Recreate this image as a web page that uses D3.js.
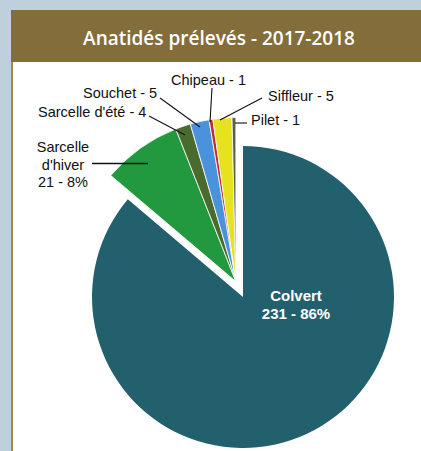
<!DOCTYPE html>
<html><head><meta charset="utf-8">
<script src="https://cdn.jsdelivr.net/npm/d3@7"></script>
<style>
html,body{margin:0;padding:0;background:#bdd0dc;}
svg{display:block;}
</style></head>
<body><svg id="c" width="421" height="451"></svg>
<script>
const categories = ["Colvert","Sarcelle d'hiver","Sarcelle d'été","Souchet","Chipeau","Siffleur","Pilet"];
const values = [231,21,4,5,1,5,1];
const colors = ["#22606e","#23993f","#4b6b2e","#4b92dc","#c22b2a","#e6e21e","#5a5f4b"];
const title = "Anatidés prélevés - 2017-2018";

const svg = d3.select("#c");
// panel
svg.append("rect").attr("x",11).attr("y",10).attr("width",410).attr("height",441).attr("fill","#ffffff");
svg.append("rect").attr("x",11).attr("y",10).attr("width",410).attr("height",52).attr("fill","#836d3b");
svg.append("rect").attr("x",11).attr("y",62).attr("width",2).attr("height",389).attr("fill","#9c8c55");

const t = svg.append("text").attr("x",219).attr("y",45).attr("text-anchor","middle")
  .attr("fill","#fff").attr("font-family","Open Sans, Lato, sans-serif").attr("font-weight",600)
  .attr("font-size",20).text(title);
const tw = t.node().getComputedTextLength();
t.attr("font-size",20*272/tw);

const cx = 243, cy = 297, rBig = 151, rSmall = 164;
const pie = d3.pie().sort(null).value(d=>d).startAngle(0).endAngle(2*Math.PI);
const arcs = pie(values);
const bigArc = d3.arc().innerRadius(0).outerRadius(rBig);
const smallArc = d3.arc().innerRadius(0).outerRadius(rSmall);

const g = svg.append("g").attr("transform",`translate(${cx},${cy})`);
g.append("path").attr("d",bigArc(arcs[0])).attr("fill",colors[0]);

const small = arcs.slice(1);
const midA = (small[0].startAngle + small[small.length-1].endAngle)/2;
const ex = 17;
const ox = ex*Math.sin(midA), oy = -ex*Math.cos(midA);
const gs = g.append("g").attr("transform",`translate(${ox},${oy})`);
gs.selectAll("path").data(small).join("path")
  .attr("d",smallArc).attr("fill",(d,i)=>colors[i+1])
  .attr("stroke","#fff").attr("stroke-width",0.8).attr("stroke-linejoin","round");

// labels
const font = "Liberation Sans, Arial, sans-serif";
const lab = svg.append("g").attr("font-family",font).attr("font-size",14.5).attr("fill","#111");
const singleLabels = [
  {i:2, x:38, y:117, anchor:"start", l:[149,116,185,135]},
  {i:3, x:83, y:98, anchor:"start", l:[160,98,200,127]},
  {i:4, x:171, y:85, anchor:"start", l:[212,88,210,122]},
  {i:5, x:268, y:101, anchor:"start", l:[262,98,220,120]},
  {i:6, x:251, y:125, anchor:"start", l:[235,123,247,123]}
];
singleLabels.forEach(s=>{
  lab.append("text").attr("x",s.x).attr("y",s.y).attr("text-anchor",s.anchor)
    .text(categories[s.i]+" - "+values[s.i]);
  svg.append("line").attr("x1",s.l[0]).attr("y1",s.l[1]).attr("x2",s.l[2]).attr("y2",s.l[3])
    .attr("stroke","#111").attr("stroke-width",1.1);
});
const total = d3.sum(values);
const pct = v => Math.round(v/total*100)+"%";
const hiver = lab.append("text").attr("text-anchor","middle");
["Sarcelle","d'hiver", values[1]+" - "+pct(values[1])].forEach((s,k)=>{
  hiver.append("tspan").attr("x",63).attr("y",152+k*17.5).text(s);
});
svg.append("line").attr("x1",92).attr("y1",163.5).attr("x2",148).attr("y2",163.5)
  .attr("stroke","#111").attr("stroke-width",1.6);

const colv = svg.append("text").attr("text-anchor","middle").attr("font-family",font)
  .attr("font-weight","bold").attr("font-size",15).attr("fill","#fff");
[categories[0], values[0]+" - "+pct(values[0])].forEach((s,k)=>{
  colv.append("tspan").attr("x",296).attr("y",301+k*18).text(s);
});
</script></body></html>
